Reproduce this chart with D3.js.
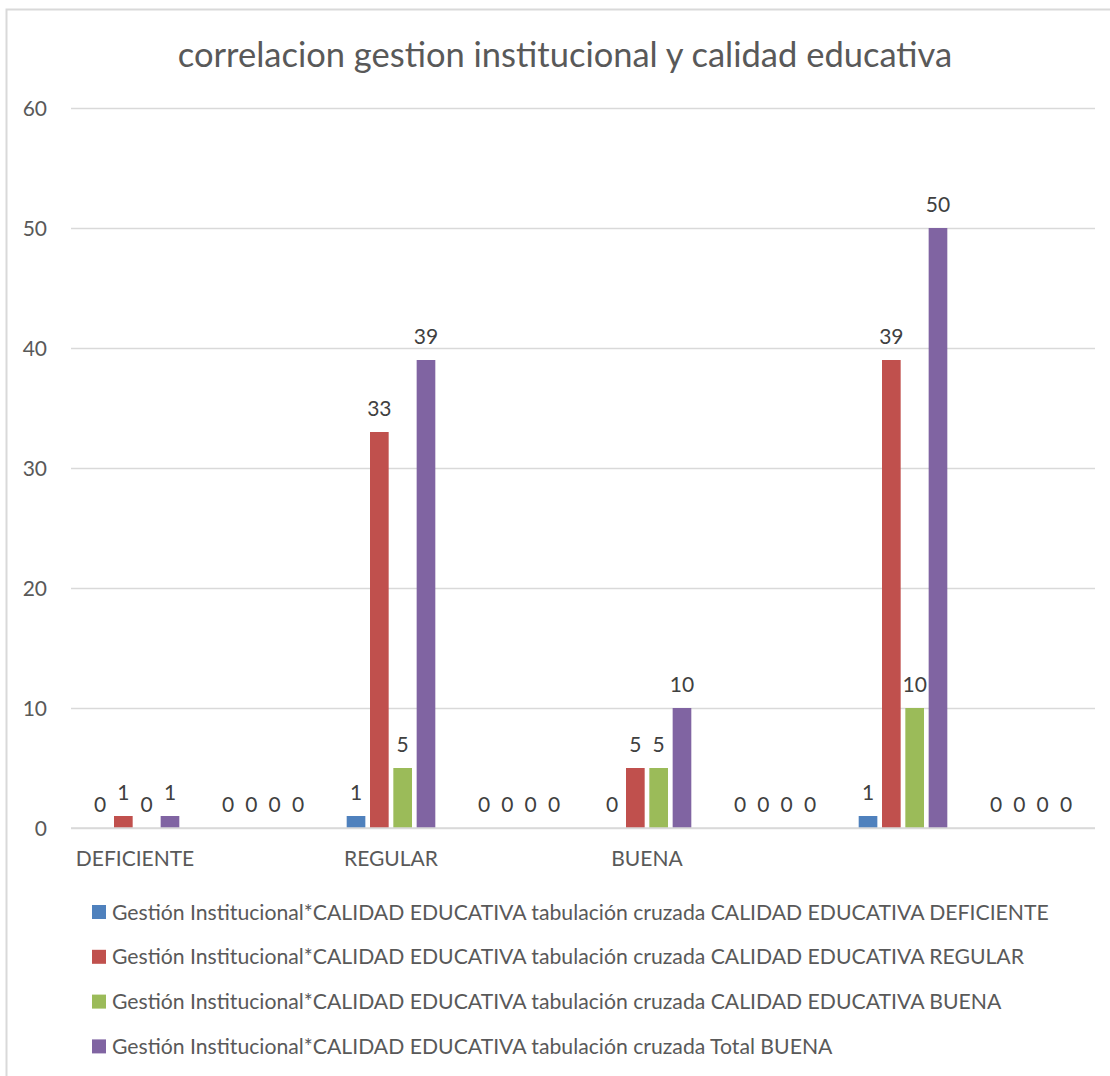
<!DOCTYPE html>
<html>
<head>
<meta charset="utf-8">
<script src="https://cdn.jsdelivr.net/npm/d3@7"></script>
<style>
  html, body { margin: 0; padding: 0; background: #fff; }
  svg { display: block; font-family: Lato, "Open Sans", sans-serif; }
</style>
</head>
<body>
<svg id="chart" width="1110" height="1076"></svg>
<script>
const chartTitle = "correlacion gestion institucional y calidad educativa";
const categoryLabels = ["DEFICIENTE", "", "REGULAR", "", "BUENA", "", "", ""];
const seriesNames = [
  "Gestión Institucional*CALIDAD EDUCATIVA tabulación cruzada CALIDAD EDUCATIVA DEFICIENTE",
  "Gestión Institucional*CALIDAD EDUCATIVA tabulación cruzada CALIDAD EDUCATIVA REGULAR",
  "Gestión Institucional*CALIDAD EDUCATIVA tabulación cruzada CALIDAD EDUCATIVA BUENA",
  "Gestión Institucional*CALIDAD EDUCATIVA tabulación cruzada Total BUENA"
];
const seriesDeficiente = [0, 0, 1, 0, 0, 0, 1, 0];
const seriesRegular    = [1, 0, 33, 0, 5, 0, 39, 0];
const seriesBuena      = [0, 0, 5, 0, 5, 0, 10, 0];
const seriesTotal      = [1, 0, 39, 0, 10, 0, 50, 0];
const yTicks = [0, 10, 20, 30, 40, 50, 60];
const seriesColors = ["#4f81bd", "#c0504d", "#9bbb59", "#8064a2"];

const allSeries = [seriesDeficiente, seriesRegular, seriesBuena, seriesTotal];

const svg = d3.select("#chart");
const margin = { left: 71, top: 108, plotBottom: 828 };
const plotRight = 1095;

// frame
svg.append("rect")
  .attr("x", 6.5).attr("y", 9.5)
  .attr("width", 1200).attr("height", 1200)
  .attr("fill", "none").attr("stroke", "#d9d9d9").attr("stroke-width", 2);

// title
svg.append("text")
  .attr("x", 565).attr("y", 67)
  .attr("text-anchor", "middle")
  .attr("font-size", 34.5)
  .attr("font-weight", 400)
  .attr("fill", "#595959")
  .text(chartTitle);

const catIdx = d3.range(categoryLabels.length);
const x0 = d3.scaleBand().domain(catIdx).range([margin.left, plotRight]).padding(0);
const groupW = 93.3;
const x1 = d3.scaleBand().domain(d3.range(allSeries.length))
  .range([(x0.bandwidth() - groupW) / 2, (x0.bandwidth() + groupW) / 2])
  .paddingInner(0.2).paddingOuter(0.1);
const y = d3.scaleLinear().domain([0, 60]).range([margin.plotBottom, margin.top]);

// gridlines + y labels
const yAxis = d3.axisLeft(y).tickValues(yTicks).tickSize(-(plotRight - margin.left)).tickPadding(24);
const gy = svg.append("g").attr("transform", `translate(${margin.left},0)`).call(yAxis);
gy.select(".domain").remove();
gy.selectAll(".tick line").attr("stroke", "#d9d9d9").attr("stroke-width", 1.5);
gy.selectAll(".tick text").attr("fill", "#595959").attr("font-size", 21)
  .attr("font-family", "Lato, 'Open Sans', sans-serif").attr("dy", "0.36em");

// bars
const groups = svg.append("g").selectAll("g")
  .data(catIdx).join("g")
  .attr("transform", d => `translate(${x0(d)},0)`);

groups.selectAll("rect")
  .data(c => allSeries.map((s, i) => ({ s: i, v: s[c] })))
  .join("rect")
  .attr("x", d => x1(d.s))
  .attr("width", x1.bandwidth())
  .attr("y", d => y(d.v))
  .attr("height", d => y(0) - y(d.v))
  .attr("fill", d => seriesColors[d.s]);

groups.selectAll("text.val")
  .data(c => allSeries.map((s, i) => ({ s: i, v: s[c] })))
  .join("text")
  .attr("class", "val")
  .attr("x", d => x1(d.s) + x1.bandwidth() / 2)
  .attr("y", d => y(d.v) - 16.5)
  .attr("text-anchor", "middle")
  .attr("font-size", 21)
  .attr("fill", "#404040")
  .text(d => d.v);

// baseline axis
svg.append("line")
  .attr("x1", margin.left).attr("x2", plotRight)
  .attr("y1", y(0)).attr("y2", y(0))
  .attr("stroke", "#d9d9d9").attr("stroke-width", 1.5);

// category labels
const xAxis = d3.axisBottom(x0).tickFormat(i => categoryLabels[i]).tickSize(0).tickPadding(0);
const gx = svg.append("g").attr("transform", `translate(0,${y(0)})`).call(xAxis);
gx.select(".domain").remove();
gx.selectAll(".tick text").attr("fill", "#595959").attr("font-size", 21)
  .attr("font-family", "Lato, 'Open Sans', sans-serif")
  .attr("y", 38).attr("dy", 0);

// legend
const legend = svg.append("g").selectAll("g")
  .data(seriesNames).join("g")
  .attr("transform", (d, i) => `translate(92,${912 + i * 44.8})`);
legend.append("rect")
  .attr("x", 0).attr("y", -7).attr("width", 14).attr("height", 14)
  .attr("fill", (d, i) => seriesColors[i]);
legend.append("text")
  .attr("x", 20).attr("y", 7.5)
  .attr("font-size", 21.2)
  .attr("fill", "#595959")
  .text(d => d);
</script>
</body>
</html>
